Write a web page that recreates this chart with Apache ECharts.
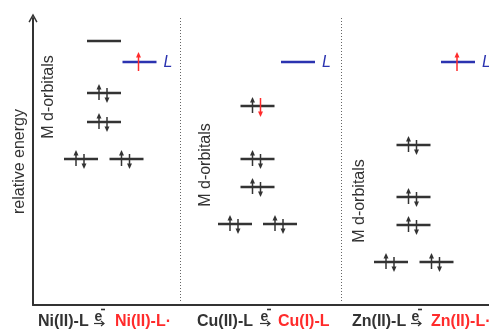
<!DOCTYPE html>
<html>
<head>
<meta charset="utf-8">
<script src="https://cdn.jsdelivr.net/npm/echarts@6/dist/echarts.min.js"></script>
<style>
  html, body { margin: 0; padding: 0; background: #fff; }
  #main { width: 489px; height: 331px; }
</style>
</head>
<body>
<div id="main"></div>
<script>
// complexes before / after the one-electron reduction
const panelNames = ['Ni(II)-L', 'Cu(II)-L', 'Zn(II)-L']
const reducedNames = ['Ni(II)-L·', 'Cu(I)-L', 'Zn(II)-L·']

// d-orbital levels: [x slot, relative energy, electrons]
// 'ud' = paired, 'uD' = up + added (red) down, 'U' = added (red) up, '' = empty
const niOrbitals = [[71, 264, ''], [71, 212, 'ud'], [71, 183, 'ud'], [48, 146, 'ud'], [93.5, 146, 'ud']]
const cuOrbitals = [[224.5, 199, 'uD'], [224.5, 146, 'ud'], [224.5, 118, 'ud'], [202, 81, 'ud'], [247, 81, 'ud']]
const znOrbitals = [[380.5, 160, 'ud'], [380.5, 108, 'ud'], [380.5, 80, 'ud'], [358, 43, 'ud'], [403.5, 43, 'ud']]
// ligand (L) level of each complex
const ligandLevels = [[106.5, 243, 'U'], [265, 243, ''], [425, 243, 'U']]
// dotted panel separators
const separators = [147, 308]

const DARK = '#333'
const RED = '#ff2b2b'
const BLUE = '#2b33b0'
const FONT = '"Liberation Sans", Arial, sans-serif'

// label layout (data coords)
const dLabelPos = [[16, 208], [173, 140], [327, 104]]
const nameX = [5, 164, 319]
const eX = [66, 232, 383]
const reducedX = [82, 245, 398]

const allOrbitals = niOrbitals.concat(cuOrbitals, znOrbitals)

const arrow = function (x, y1, y2, color) {
  var dir = y2 > y1 ? 1 : -1
  return [
    {type: 'line', shape: {x1: x, y1: y1, x2: x, y2: y2 - dir * 4}, style: {stroke: color, lineWidth: 1.5}},
    {type: 'polygon', shape: {points: [[x, y2], [x - 2.5, y2 - dir * 5.5], [x + 2.5, y2 - dir * 5.5]]}, style: {fill: color}}
  ]
}

const electrons = function (code, cx, cy) {
  var out = []
  if (code === 'ud') {
    out = out.concat(arrow(cx - 5, cy + 7, cy - 9, DARK), arrow(cx + 3, cy - 5, cy + 10, DARK))
  } else if (code === 'uD') {
    out = out.concat(arrow(cx - 5, cy + 7, cy - 9, DARK), arrow(cx + 3, cy - 8, cy + 11, RED))
  } else if (code === 'U') {
    out = out.concat(arrow(cx - 1, cy + 9, cy - 10, RED))
  }
  return out
}

const levelItem = function (list, color, withL) {
  return function (params, api) {
    var d = list[params.dataIndex]
    var p = api.coord([d[0], d[1]])
    var children = [
      {type: 'line', shape: {x1: p[0] - 17, y1: p[1], x2: p[0] + 17, y2: p[1]}, style: {stroke: color, lineWidth: 2.6}}
    ]
    if (withL) {
      children.push({type: 'text', x: p[0] + 24, y: p[1] + 1,
        style: {text: 'L', font: 'italic 16px ' + FONT, fill: BLUE, align: 'left', verticalAlign: 'middle'}})
    }
    children = children.concat(electrons(d[2], p[0], p[1]))
    return {type: 'group', children: children}
  }
}

var chart = echarts.init(document.getElementById('main'), null, {renderer: 'canvas'})
chart.setOption({
  animation: false,
  grid: {left: 33, right: 0, top: 18, bottom: 26},
  xAxis: {
    type: 'value', min: 0, max: 456,
    axisLine: {show: true, lineStyle: {color: DARK, width: 2}},
    axisTick: {show: false}, axisLabel: {show: false}, splitLine: {show: false}
  },
  yAxis: {
    type: 'value', min: 0, max: 287,
    name: 'relative energy',
    nameLocation: 'middle',
    nameRotate: 90,
    nameGap: 5,
    nameTextStyle: {fontSize: 16, color: DARK, fontFamily: FONT},
    axisLine: {
      show: true,
      symbol: ['none', 'path://M5,0 L10,9 L8.6,9.9 L5,3.2 L1.4,9.9 L0,9 Z'],
      symbolSize: [10, 9],
      lineStyle: {color: DARK, width: 2}
    },
    axisTick: {show: false}, axisLabel: {show: false}, splitLine: {show: false}
  },
  series: [
    {
      // panel separators
      type: 'custom', clip: false,
      data: separators.map(function (x) { return [x, 0] }),
      renderItem: function (params, api) {
        var top = api.coord([separators[params.dataIndex], 287])
        var bot = api.coord([separators[params.dataIndex], 3])
        return {type: 'line', shape: {x1: top[0] + 0.5, y1: top[1], x2: bot[0] + 0.5, y2: bot[1]},
          style: {stroke: '#666', lineWidth: 1, lineDash: [1, 2]}}
      }
    },
    {
      type: 'custom', clip: false,
      data: allOrbitals.map(function (d) { return [d[0], d[1]] }),
      renderItem: levelItem(allOrbitals, DARK, false)
    },
    {
      type: 'custom', clip: false,
      data: ligandLevels.map(function (d) { return [d[0], d[1]] }),
      renderItem: levelItem(ligandLevels, BLUE, true)
    },
    {
      // "M d-orbitals" labels and bottom reaction labels
      type: 'custom', clip: false,
      data: panelNames.map(function (n, i) { return [nameX[i], 0] }),
      renderItem: function (params, api) {
        var i = params.dataIndex
        var dl = api.coord(dLabelPos[i])
        var n = api.coord([nameX[i], -17])
        var e = api.coord([eX[i], -17])
        var r = api.coord([reducedX[i], -17])
        return {type: 'group', children: [
          {type: 'text', x: dl[0], y: dl[1], rotation: Math.PI / 2,
            style: {text: 'M d-orbitals', font: '16px ' + FONT, fill: DARK, align: 'center', verticalAlign: 'middle'}},
          {type: 'text', x: n[0], y: n[1],
            style: {text: panelNames[i], font: 'bold 16px ' + FONT, fill: DARK, align: 'left', verticalAlign: 'middle'}},
          {type: 'text', x: e[0] - 0.5, y: e[1] - 5,
            style: {text: 'e', font: 'bold 14px ' + FONT, fill: DARK, align: 'center', verticalAlign: 'middle'}},
          {type: 'line', shape: {x1: e[0] + 2, y1: e[1] - 12.5, x2: e[0] + 6, y2: e[1] - 12.5}, style: {stroke: DARK, lineWidth: 1.6}},
          {type: 'line', shape: {x1: e[0] - 5, y1: e[1] + 1.5, x2: e[0] + 5, y2: e[1] + 1.5}, style: {stroke: DARK, lineWidth: 1.2}},
          {type: 'polyline', shape: {points: [[e[0] + 2, e[1] - 1], [e[0] + 5, e[1] + 1.5], [e[0] + 2, e[1] + 4]]}, style: {stroke: DARK, lineWidth: 1.2, fill: null}},
          {type: 'text', x: r[0], y: r[1],
            style: {text: reducedNames[i], font: 'bold 16px ' + FONT, fill: RED, align: 'left', verticalAlign: 'middle'}}
        ]}
      }
    }
  ]
})
</script>
</body>
</html>
